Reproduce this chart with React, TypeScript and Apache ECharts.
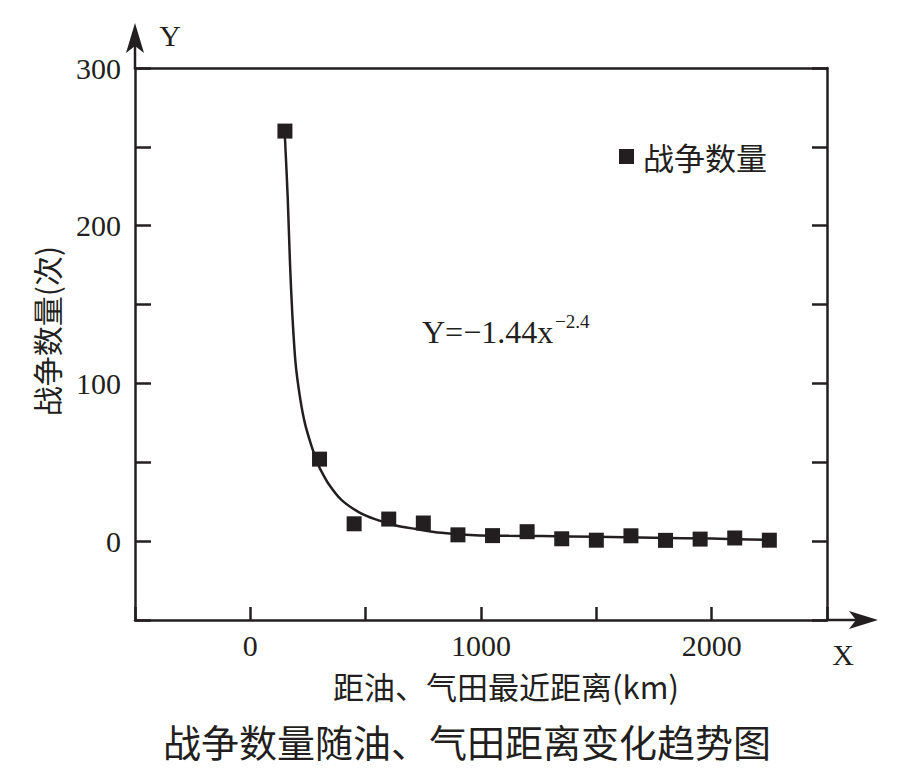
import React, { useEffect, useRef } from "react";
import * as echarts from "echarts";

// Scatter data: distance to nearest oil/gas field (km) and number of wars
const distances = [150, 300, 450, 600, 750, 900, 1050, 1200, 1350, 1500, 1650, 1800, 1950, 2100, 2250];
const warCounts = [260, 52, 11, 14, 11.5, 4, 3.5, 6, 1.5, 0.6, 3.4, 0.5, 1.3, 2, 0.6];

// Fitted curve, points
const fitX = [150, 162, 172, 182, 196, 215, 237, 266, 292, 302, 338, 396, 468, 540, 627, 714, 829, 974, 1118, 1263, 1500, 1750, 2000, 2250];
const fitY = [256, 218, 176, 144, 113, 91.5, 74.5, 60, 49.5, 46, 36.6, 26, 18.6, 14, 10.1, 7.8, 5.3, 3.8, 3.4, 3.2, 2.8, 2.2, 1.6, 0.8];

const xTickLabels = ["0", "1000", "2000"];
const yTickLabels = ["0", "100", "200", "300"];

const seriesName = "战争数量";
const xName = "距油、气田最近距离(km)";
const yName = "战争数量(次)";
const titleText = "战争数量随油、气田距离变化趋势图";
const equationMain = "Y=−1.44x";
const equationSup = "−2.4";

const INK = "#231f20";
const SERIF = "'Liberation Serif', 'Times New Roman', serif";
const CJK = "'Noto Sans CJK SC', 'Noto Sans', sans-serif";

export default function App() {
  const ref = useRef<HTMLDivElement>(null);

  useEffect(() => {
    if (!ref.current) return;
    const chart = echarts.init(ref.current, null, { renderer: "svg" });

    const scatterData = distances.map((d, i) => [d, warCounts[i]]);
    const fitData = fitX.map((d, i) => [d, fitY[i]]);

    const lineStyle = { color: INK, width: 2.5 };

    chart.setOption({
      animation: false,
      backgroundColor: "#ffffff",
      title: {
        text: titleText,
        left: 163,
        top: 721,
        padding: 0,
        textStyle: { fontFamily: CJK, fontSize: 38, fontWeight: "normal", color: INK },
      },
      legend: {
        data: [seriesName],
        left: 614,
        top: 136,
        icon: "rect",
        itemWidth: 15,
        itemHeight: 15,
        itemStyle: { color: INK, opacity: 1 },
        textStyle: { fontFamily: CJK, fontSize: 31, color: INK, padding: [0, 0, 0, 4] },
      },
      grid: { left: 135, right: 72, top: 68, bottom: 153, containLabel: false },
      xAxis: [
        {
          type: "value",
          min: -500,
          max: 2500,
          interval: 500,
          position: "bottom",
          name: xName,
          nameLocation: "middle",
          nameGap: 50,
          nameTextStyle: { fontFamily: CJK, fontSize: 31, color: INK, padding: [0, 0, 0, 50] },
          axisLine: { show: true, onZero: false, lineStyle },
          axisTick: { show: true, inside: true, length: 13, lineStyle },
          axisLabel: {
            margin: 10,
            fontFamily: SERIF,
            fontSize: 30,
            color: INK,
            formatter: (v: number) => (xTickLabels.includes(String(v)) ? String(v) : ""),
          },
          splitLine: { show: false },
        },
        {
          type: "value",
          min: -500,
          max: 2500,
          interval: 500,
          position: "top",
          axisLine: { show: true, onZero: false, lineStyle },
          axisTick: { show: false },
          axisLabel: { show: false },
          splitLine: { show: false },
        },
      ],
      yAxis: [
        {
          type: "value",
          min: -50,
          max: 300,
          interval: 50,
          position: "left",
          name: yName,
          nameLocation: "middle",
          nameRotate: 90,
          nameGap: 74,
          nameTextStyle: { fontFamily: CJK, fontSize: 30, color: INK, padding: [0, 0, 0, 26] },
          axisLine: { show: true, onZero: false, lineStyle },
          axisTick: { show: true, inside: true, length: 16, lineStyle },
          axisLabel: {
            margin: 14,
            fontFamily: SERIF,
            fontSize: 30,
            color: INK,
            formatter: (v: number) => (yTickLabels.includes(String(v)) ? String(v) : ""),
          },
          splitLine: { show: false },
        },
        {
          type: "value",
          min: -50,
          max: 300,
          interval: 50,
          position: "right",
          axisLine: { show: true, onZero: false, lineStyle },
          axisTick: { show: true, inside: true, length: 15, lineStyle },
          axisLabel: { show: false },
          splitLine: { show: false },
        },
      ],
      series: [
        {
          name: "拟合曲线",
          type: "line",
          xAxisIndex: 0,
          yAxisIndex: 0,
          data: fitData,
          smooth: 0.3,
          showSymbol: false,
          symbol: "none",
          lineStyle: { color: INK, width: 2.5 },
          z: 2,
        },
        {
          name: seriesName,
          type: "scatter",
          xAxisIndex: 0,
          yAxisIndex: 0,
          data: scatterData,
          symbol: "rect",
          symbolSize: 15,
          itemStyle: { color: INK, opacity: 1 },
          z: 3,
        },
      ],
      graphic: [
        // Y axis extension with arrow
        { type: "line", shape: { x1: 135, y1: 69, x2: 135, y2: 40 }, style: { stroke: INK, lineWidth: 2.5 } },
        {
          type: "polygon",
          shape: { points: [[135, 23], [126, 53], [135, 46], [144, 53]] },
          style: { fill: INK },
        },
        // X axis extension with arrow
        { type: "line", shape: { x1: 826, y1: 620, x2: 860, y2: 620 }, style: { stroke: INK, lineWidth: 2.5 } },
        {
          type: "polygon",
          shape: { points: [[878, 620], [849, 611], [856, 620], [849, 629]] },
          style: { fill: INK },
        },
        {
          type: "text",
          x: 170,
          y: 35,
          style: { text: "Y", fontFamily: SERIF, fontSize: 30, fill: INK, textAlign: "center", textVerticalAlign: "middle" },
        },
        {
          type: "text",
          x: 843,
          y: 654,
          style: { text: "X", fontFamily: SERIF, fontSize: 30, fill: INK, textAlign: "center", textVerticalAlign: "middle" },
        },
        {
          type: "text",
          x: 422,
          y: 316,
          style: { text: equationMain, fontFamily: SERIF, fontSize: 32, fill: INK, textAlign: "left", textVerticalAlign: "top" },
        },
        {
          type: "text",
          x: 555,
          y: 312,
          style: { text: equationSup, fontFamily: SERIF, fontSize: 19, fill: INK, textAlign: "left", textVerticalAlign: "top" },
        },
      ],
    });

    return () => chart.dispose();
  }, []);

  return (
    <div
      ref={ref}
      style={{ position: "absolute", left: 0, top: 0, width: 899, height: 773, background: "#fff" }}
    />
  );
}
